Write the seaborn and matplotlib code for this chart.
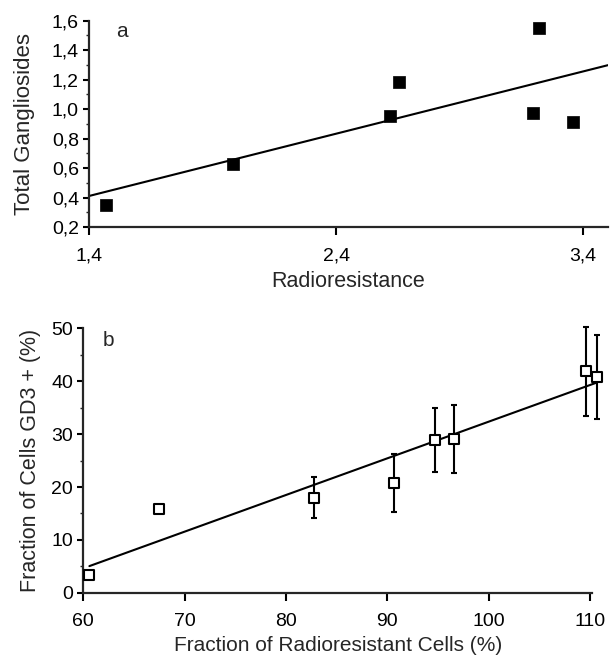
import numpy as np
import pandas as pd
import seaborn as sns
import matplotlib.pyplot as plt
from matplotlib.ticker import MultipleLocator

# panel a: radioresistance vs total gangliosides
radioresistance = [1.466, 1.983, 2.619, 2.653, 3.196, 3.222, 3.358]
gangliosides = [0.35, 0.625, 0.955, 1.186, 0.975, 1.552, 0.91]

# panel b: fraction of radioresistant cells vs fraction GD3+ cells
resistant_pct = [60.6, 67.5, 82.8, 90.7, 94.7, 96.6, 109.6, 110.7]
gd3_pct = [3.35, 15.9, 18.0, 20.7, 28.9, 29.1, 41.9, 40.85]
gd3_err = [0, 0, 3.95, 5.5, 6.1, 6.4, 8.4, 8.0]

a_xticks = [1.4, 2.4, 3.4]
a_xticklabels = ['1,4', '2,4', '3,4']
a_yticks = [0.2, 0.4, 0.6, 0.8, 1.0, 1.2, 1.4, 1.6]
a_yticklabels = ['0,2', '0,4', '0,6', '0,8', '1,0', '1,2', '1,4', '1,6']
b_xticks = [60, 70, 80, 90, 100, 110]
b_yticks = [0, 10, 20, 30, 40, 50]

sns.set_style('ticks')
plt.rcParams['font.family'] = ['Liberation Sans', 'DejaVu Sans']

df_a = pd.DataFrame({'x': radioresistance, 'y': gangliosides})
df_b = pd.DataFrame({'x': resistant_pct, 'y': gd3_pct, 'err': gd3_err})

fig = plt.figure(figsize=(6.13, 6.59), dpi=100)
ax_a = fig.add_axes([0.1457, 0.6555, 0.846, 0.313])
ax_b = fig.add_axes([0.1359, 0.1006, 0.830, 0.401])

# panel a
ax_a.set_xlim(1.4, 3.5)
ax_a.set_ylim(0.2, 1.6)
sns.regplot(data=df_a, x='x', y='y', ax=ax_a, ci=None, truncate=False, marker='s',
            scatter_kws={'s': 72, 'facecolor': 'black', 'edgecolor': 'black',
                         'linewidths': 0.5, 'alpha': 1, 'zorder': 3, 'clip_on': False},
            line_kws={'color': 'black', 'lw': 1.5, 'zorder': 2})
ax_a.set_xticks(a_xticks)
ax_a.set_xticklabels(a_xticklabels)
ax_a.set_yticks(a_yticks)
ax_a.set_yticklabels(a_yticklabels)
ax_a.yaxis.set_minor_locator(MultipleLocator(0.1))
ax_a.set_xlabel('Radioresistance', fontsize=15.5, labelpad=5)
ax_a.set_ylabel('Total Gangliosides', fontsize=16, labelpad=12)
ax_a.text(0.0625, 0.947, 'a', transform=ax_a.transAxes, fontsize=15,
          ha='center', va='center')

# panel b
ax_b.set_xlim(60, 110.2)
ax_b.set_ylim(0, 50)
ax_b.errorbar(df_b['x'], df_b['y'], yerr=df_b['err'], fmt='none', ecolor='black',
              elinewidth=1.5, capsize=2.5, capthick=1.5, zorder=1, clip_on=False)
sns.regplot(data=df_b, x='x', y='y', ax=ax_b, ci=None, truncate=True, marker='s',
            scatter_kws={'s': 50, 'facecolor': 'white', 'edgecolor': 'black',
                         'linewidths': 1.5, 'alpha': 1, 'zorder': 3, 'clip_on': False},
            line_kws={'color': 'black', 'lw': 1.5, 'zorder': 2, 'clip_on': False})
ax_b.set_xticks(b_xticks)
ax_b.set_yticks(b_yticks)
ax_b.yaxis.set_minor_locator(MultipleLocator(5))
ax_b.set_xlabel('Fraction of Radioresistant Cells (%)', fontsize=15, labelpad=4.5)
ax_b.set_ylabel('Fraction of Cells GD3 + (%)', fontsize=15.5, labelpad=7.5)
ax_b.text(0.049, 0.956, 'b', transform=ax_b.transAxes, fontsize=15,
          ha='center', va='center')

for ax in (ax_a, ax_b):
    sns.despine(ax=ax)
    ax.spines['left'].set_linewidth(1.6)
    ax.spines['bottom'].set_linewidth(1.6)
    ax.tick_params(which='major', width=1.5, labelsize=14,
                   color='black', labelcolor='black')
    ax.tick_params(which='major', axis='x', length=5.5, pad=9)
    ax.tick_params(which='major', axis='y', length=4.5, pad=3)
    ax.tick_params(which='minor', axis='y', length=2, width=1)

plt.savefig('out.png', dpi=100)
